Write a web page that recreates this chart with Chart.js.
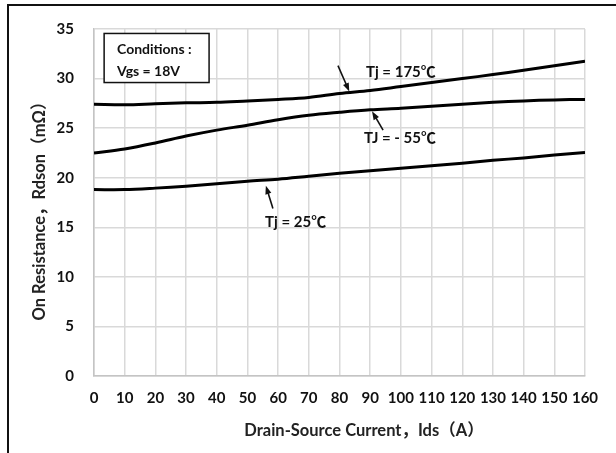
<!DOCTYPE html>
<html>
<head>
<meta charset="utf-8">
<script src="https://cdn.jsdelivr.net/npm/chart.js@4/dist/chart.umd.min.js"></script>
<style>
  html, body { margin: 0; padding: 0; background: #fff; }
  #wrap { position: relative; width: 616px; height: 453px; }
</style>
</head>
<body>
<div id="wrap"><canvas id="rds" width="616" height="453"></canvas></div>
<script>
// Ids (A)
const corrente = [0, 10, 20, 30, 40, 50, 60, 70, 80, 90, 100, 110, 120, 130, 140, 150, 160];
// Rdson (mOhm) per junction temperature
const rds175 = [27.4, 27.35, 27.45, 27.55, 27.6, 27.75, 27.9, 28.1, 28.5, 28.8, 29.2, 29.6, 30.0, 30.4, 30.85, 31.3, 31.75];
const rdsM55 = [22.5, 22.9, 23.5, 24.2, 24.8, 25.3, 25.85, 26.3, 26.6, 26.85, 27.0, 27.2, 27.4, 27.6, 27.75, 27.85, 27.9];
const rds25 = [18.8, 18.8, 18.95, 19.15, 19.4, 19.65, 19.85, 20.15, 20.45, 20.7, 20.95, 21.2, 21.45, 21.75, 22.0, 22.3, 22.55];

const tituloX = "Drain-Source Current，Ids（A）";
const tituloY = "On Resistance，Rdson（mΩ）";
const condicoes = ["Conditions :", "Vgs = 18V"];

// labels with arrows, in data units: text position, arrow tail, arrow head
const rotulos = [
  { texto: "Tj = 175℃", x: 100, y: 30.6, de: [79.5, 31.3], para: [83.2, 28.7] },
  { texto: "TJ = - 55℃", x: 99.7, y: 24.0, de: [94.2, 24.8], para: [90.6, 26.7] },
  { texto: "Tj = 25℃", x: 65.7, y: 15.5, de: [58.3, 16.9], para: [56.0, 19.2] },
];

const FONTE = "Lato, 'Noto Sans CJK SC', sans-serif";

const serie = (ys) => corrente.map((x, i) => ({ x, y: ys[i] }));

function seta(ctx, x0, y0, x1, y1) {
  const ang = Math.atan2(y1 - y0, x1 - x0);
  const tam = 9;
  ctx.beginPath();
  ctx.moveTo(x0, y0);
  ctx.lineTo(x1 - Math.cos(ang) * tam * 0.6, y1 - Math.sin(ang) * tam * 0.6);
  ctx.lineWidth = 1.6;
  ctx.stroke();
  ctx.beginPath();
  ctx.moveTo(x1, y1);
  ctx.lineTo(x1 - tam * Math.cos(ang - 0.35), y1 - tam * Math.sin(ang - 0.35));
  ctx.lineTo(x1 - tam * Math.cos(ang + 0.35), y1 - tam * Math.sin(ang + 0.35));
  ctx.closePath();
  ctx.fill();
}

const extras = {
  id: "extras",
  afterDraw(chart) {
    const { ctx } = chart;
    const sx = chart.scales.x, sy = chart.scales.y;
    ctx.save();
    ctx.fillStyle = "#111";
    ctx.strokeStyle = "#111";

    // moldura externa (só topo e esquerda aparecem)
    ctx.lineWidth = 2;
    ctx.beginPath();
    ctx.moveTo(8, 460);
    ctx.lineTo(8, 5);
    ctx.lineTo(620, 5);
    ctx.stroke();

    // caixa de condições
    const bx0 = sx.getPixelForValue(3.3), bx1 = sx.getPixelForValue(37.5);
    const by0 = sy.getPixelForValue(34.55), by1 = sy.getPixelForValue(29.6);
    ctx.fillStyle = "#fff";
    ctx.fillRect(bx0, by0, bx1 - bx0, by1 - by0);
    ctx.lineWidth = 1.5;
    ctx.strokeRect(bx0, by0, bx1 - bx0, by1 - by0);
    ctx.fillStyle = "#111";
    ctx.font = "bold 14px " + FONTE;
    ctx.textAlign = "left";
    ctx.textBaseline = "middle";
    ctx.fillText(condicoes[0], sx.getPixelForValue(7.5), sy.getPixelForValue(32.9));
    ctx.fillText(condicoes[1], sx.getPixelForValue(7.5), sy.getPixelForValue(30.7));

    // rótulos das curvas
    ctx.font = "bold 15px " + FONTE;
    ctx.textAlign = "center";
    rotulos.forEach((r) => {
      ctx.fillText(r.texto, sx.getPixelForValue(r.x), sy.getPixelForValue(r.y));
      seta(ctx,
        sx.getPixelForValue(r.de[0]), sy.getPixelForValue(r.de[1]),
        sx.getPixelForValue(r.para[0]), sy.getPixelForValue(r.para[1]));
    });

    // títulos dos eixos
    ctx.font = "bold 16.5px " + FONTE;
    ctx.fillStyle = "#222";
    ctx.fillText(tituloX, 364, 431);
    ctx.translate(40, 207);
    ctx.rotate(-Math.PI / 2);
    ctx.fillText(tituloY, 0, 0);
    ctx.restore();
  },
};

const linha = {
  borderColor: "#000",
  borderWidth: 3,
  pointRadius: 0,
  tension: 0.35,
  fill: false,
};

new Chart(document.getElementById("rds"), {
  type: "line",
  data: {
    datasets: [
      { label: "Tj = 175℃", data: serie(rds175), ...linha },
      { label: "Tj = -55℃", data: serie(rdsM55), ...linha },
      { label: "Tj = 25℃", data: serie(rds25), ...linha },
    ],
  },
  options: {
    responsive: false,
    animation: false,
    events: [],
    layout: { padding: { left: 0, right: 31, top: 25, bottom: 0 } },
    plugins: {
      legend: { display: false },
      tooltip: { enabled: false },
    },
    scales: {
      x: {
        type: "linear",
        min: 0,
        max: 160,
        ticks: {
          stepSize: 10,
          color: "#111",
          padding: 13,
          maxRotation: 0,
          autoSkip: false,
          font: { family: FONTE, size: 15, weight: "bold" },
        },
        grid: { color: "#d9d9d9", lineWidth: 1.5, drawTicks: false },
        border: { color: "#c4c4c4", width: 1.5 },
        afterFit(scale) { scale.height = 77; },
      },
      y: {
        min: 0,
        max: 35,
        ticks: {
          stepSize: 5,
          color: "#111",
          padding: 20,
          font: { family: FONTE, size: 15, weight: "bold" },
        },
        grid: { color: "#d9d9d9", lineWidth: 1.5, drawTicks: false },
        border: { color: "#c4c4c4", width: 1.5 },
        afterFit(scale) { scale.width = 94; },
      },
    },
  },
  plugins: [extras],
});
</script>
</body>
</html>
